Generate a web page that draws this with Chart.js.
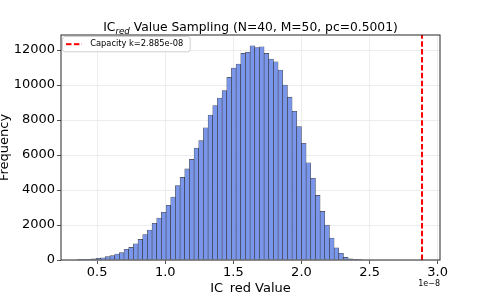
<!DOCTYPE html>
<html><head><meta charset="utf-8">
<script src="https://cdn.jsdelivr.net/npm/chart.js@4.4.1/dist/chart.umd.min.js"></script>
<style>html,body{margin:0;padding:0;background:#fff;overflow:hidden}#wrap{position:relative;width:488px;height:293px}</style>
</head><body><div id="wrap"><canvas id="c" width="488" height="293"></canvas></div>
<script>
// ---- data (x values in units of 1e-8) ----
const binStart = 0.355;
const binWidth = 0.03427;
const counts = [5, 10, 20, 60, 95, 130, 190, 250, 340, 420, 610, 720, 930, 1180, 1460, 1710, 2100, 2400, 2730,
  3130, 3600, 4260, 4720, 5210, 5750, 6400, 6820, 7560, 8290, 8830, 9260, 9680, 10440, 10970, 11200, 11810, 11870,
  12250, 12150, 12190, 11810, 11490, 11330, 10860, 10000, 9310, 8500, 7620, 6670, 5560, 4670, 3690, 2780, 2000,
  1260, 690, 380, 150, 60, 20, 6];
const capacityK = 2.885;
const xTicks = [0.5, 1.0, 1.5, 2.0, 2.5, 3.0];
const yTicks = [0, 2000, 4000, 6000, 8000, 10000, 12000];
const xRange = [0.235, 3.017];
const yRange = [0, 12862];
const titleMain = 'IC', titleSub = 'red', titleRest = ' Value Sampling (N=40, M=50, pc=0.5001)';
const xLabel = 'IC_red Value';
const yLabel = 'Frequency';
const legendLabel = 'Capacity k=2.885e-08';
const offsetLabel = '1e\u22128';

const FAM = '"DejaVu Sans", Verdana, sans-serif';

const barData = counts.map((c, i) => ({x: binStart + (i + 0.5) * binWidth, y: c}));
const lineData = [{x: capacityK, y: yRange[0]}, {x: capacityK, y: yRange[1]}];

// legend handle image: dashed red line + transparent spacer
const handle = document.createElement('canvas');
handle.width = 20; handle.height = 4;
(function(){ const g = handle.getContext('2d'); g.strokeStyle = '#ff0000'; g.lineWidth = 2; g.setLineDash([5.5, 2.4]);
  g.beginPath(); g.moveTo(0, 2); g.lineTo(16, 2); g.stroke(); })();

const decor = {
  id: 'decor',
  afterLayout(chart) {
    const lg = chart.legend, ca = chart.chartArea;
    if (!lg) return;
    const dy = ca.top - lg.top;
    if (dy) {
      lg.top += dy; lg.bottom += dy;
      (lg.legendHitBoxes || []).forEach(h => { h.top += dy; });
    }
    if (!lg._patched) {
      lg._patched = true;
      const orig = lg.draw.bind(lg);
      lg.draw = function(area) {
        const hb = lg.legendHitBoxes && lg.legendHitBoxes[0];
        if (hb) {
          const ctx = chart.ctx; ctx.save();
          const l = hb.left - 3.5, t = hb.top - 3.5, w = hb.width + 10.5, h = hb.height + 7, r = 2.5;
          ctx.beginPath();
          ctx.moveTo(l + r, t); ctx.lineTo(l + w - r, t); ctx.quadraticCurveTo(l + w, t, l + w, t + r);
          ctx.lineTo(l + w, t + h - r); ctx.quadraticCurveTo(l + w, t + h, l + w - r, t + h);
          ctx.lineTo(l + r, t + h); ctx.quadraticCurveTo(l, t + h, l, t + h - r);
          ctx.lineTo(l, t + r); ctx.quadraticCurveTo(l, t, l + r, t); ctx.closePath();
          ctx.fillStyle = 'rgba(255,255,255,0.85)'; ctx.fill();
          ctx.strokeStyle = '#d0d0d0'; ctx.lineWidth = 1; ctx.stroke();
          ctx.restore();
        }
        orig(area);
      };
    }
  },
  afterDraw(chart) {
    const ctx = chart.ctx, ca = chart.chartArea;
    ctx.save();
    // frame
    ctx.strokeStyle = '#262626'; ctx.lineWidth = 1;
    ctx.strokeRect(ca.left, ca.top, ca.right - ca.left, ca.bottom - ca.top);
    // title with subscript
    const fMain = '12.3px ' + FAM, fSub = 'italic 8.7px ' + FAM;
    ctx.fillStyle = '#000'; ctx.textBaseline = 'alphabetic'; ctx.textAlign = 'left';
    ctx.font = fMain; const w1 = ctx.measureText(titleMain).width, w3 = ctx.measureText(titleRest).width;
    ctx.font = fSub; const w2 = ctx.measureText(titleSub).width;
    let x = (ca.left + ca.right) / 2 - (w1 + w2 + w3) / 2; const y = 31;
    ctx.font = fMain; ctx.fillText(titleMain, x, y); x += w1;
    ctx.font = fSub; ctx.fillText(titleSub, x, y + 2.5); x += w2;
    ctx.font = fMain; ctx.fillText(titleRest, x, y);
    // offset text
    ctx.font = '8px ' + FAM; ctx.textAlign = 'right';
    ctx.fillText(offsetLabel, ca.right, 286);
    ctx.restore();
  }
};

new Chart(document.getElementById('c'), {
  type: 'bar',
  data: {
    datasets: [
      {type: 'bar', label: 'hist', data: barData, backgroundColor: '#7a96ea', borderColor: 'rgba(0,0,0,0.72)',
       borderWidth: 0.6, borderSkipped: 'start', barPercentage: 1, categoryPercentage: 1, grouped: false, order: 2},
      {type: 'line', label: legendLabel, data: lineData, borderColor: '#ff0000', borderWidth: 2,
       borderDash: [5.5, 2.4], pointRadius: 0, fill: false, order: 1, pointStyle: handle}
    ]
  },
  options: {
    responsive: false, animation: false, devicePixelRatio: 1,
    layout: {padding: {left: 0, right: 48, top: 35, bottom: 0}},
    plugins: {
      title: {display: false},
      tooltip: {enabled: false},
      legend: {
        position: 'chartArea', align: 'start',
        labels: {
          filter: (it) => it.datasetIndex === 1,
          usePointStyle: true, pointStyleWidth: 20, boxHeight: 8, padding: 5,
          font: {family: FAM, size: 8.3}, color: '#000'
        }
      }
    },
    scales: {
      x: {
        type: 'linear', min: xRange[0], max: xRange[1], offset: false,
        afterBuildTicks: (s) => { s.ticks = xTicks.map(v => ({value: v})); },
        afterFit: (s) => { s.height = 33; },
        grid: {color: '#e9e9e9', lineWidth: 0.8, offset: false, tickColor: '#262626', tickLength: 4, drawTicks: true},
        border: {display: false},
        ticks: {autoSkip: false, maxRotation: 0, padding: 1, color: '#000', font: {family: FAM, size: 13},
                callback: (v) => Number(v).toFixed(1)},
        title: {display: true, text: xLabel, color: '#000', font: {family: FAM, size: 13, lineHeight: 1}, padding: {top: 0, bottom: -2.5}}
      },
      y: {
        type: 'linear', min: yRange[0], max: yRange[1],
        afterBuildTicks: (s) => { s.ticks = yTicks.map(v => ({value: v})); },
        afterFit: (s) => { s.width = 61; },
        grid: {color: '#e9e9e9', lineWidth: 0.8, tickColor: '#262626', tickLength: 4, drawTicks: true},
        border: {display: false},
        ticks: {autoSkip: false, padding: 2, color: '#000', font: {family: FAM, size: 13},
                callback: (v) => String(v)},
        title: {display: true, text: yLabel, color: '#000', font: {family: FAM, size: 13, lineHeight: 1}, padding: {top: -2, bottom: 0}}
      }
    }
  },
  plugins: [decor]
});
</script></body></html>
